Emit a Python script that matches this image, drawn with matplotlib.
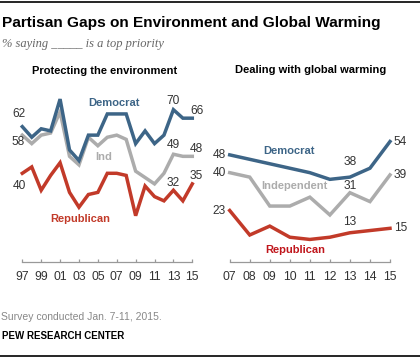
import matplotlib
matplotlib.use("Agg")
import matplotlib.pyplot as plt
from matplotlib.lines import Line2D

# --- data ---
env_years = [1997, 1998, 1999, 2000, 2001, 2002, 2003, 2004, 2005, 2006,
             2007, 2008, 2009, 2010, 2011, 2012, 2013, 2014, 2015]
env_dem = [62, 57, 61, 60, 75, 51, 46, 58, 58, 68, 68, 68, 54, 60, 54, 58, 70, 66, 66]
env_ind = [58, 54, 58, 59, 69, 48, 44, 57, 53, 57, 58, 56, 41, 38, 35, 40, 49, 48, 48]
env_rep = [40, 43, 32, 39, 45, 31, 24, 30, 31, 40, 40, 39, 20, 34, 29, 27, 32, 27, 35]
env_ticks = [1997, 1999, 2001, 2003, 2005, 2007, 2009, 2011, 2013, 2015]
env_ticklabels = ["97", "99", "01", "03", "05", "07", "09", "11", "13", "15"]

gw_years = [2007, 2008, 2009, 2010, 2011, 2012, 2013, 2014, 2015]
gw_dem = [48, 46, 44, 42, 40, 37, 38, 42, 54]
gw_ind = [40, 38, 25, 25, 29, 21, 31, 27, 39]
gw_rep = [23, 12, 16, 11, 10, 11, 13, 14, 15]
gw_ticklabels = ["07", "08", "09", "10", "11", "12", "13", "14", "15"]

DEM = "#3d6587"
IND = "#acacac"
REP = "#c23a29"
TXT = "#333333"

plt.rcParams["font.family"] = ["Liberation Sans", "DejaVu Sans"]

W, H = 420, 358
fig = plt.figure(figsize=(W / 100, H / 100), dpi=100)


def fx(x):
    return x / W


def fy(y):
    return 1 - y / H


def panel(x0, x1, y_top, y_bot, ylim):
    ax = fig.add_axes([fx(x0), fy(y_bot), (x1 - x0) / W, (y_bot - y_top) / H])
    ax.set_ylim(*ylim)
    for s in ["top", "left", "right"]:
        ax.spines[s].set_visible(False)
    ax.spines["bottom"].set_color("#999999")
    ax.spines["bottom"].set_linewidth(0.9)
    ax.set_yticks([])
    ax.tick_params(axis="x", direction="in", length=2.5, width=0.9,
                   color="#999999", pad=7, labelsize=8.8, labelcolor=TXT)
    ax.patch.set_visible(False)
    return ax


def lbl(ax, x, y, s, dx, dy, ha="center"):
    ax.annotate(s, (x, y), xytext=(dx, dy), textcoords="offset pixels",
                ha=ha, va="center", fontsize=8.6, color=TXT)


# left panel: environment
ax1 = panel(22.3, 192.3, 88.5, 261.7, (-1.7, 80))
ax1.set_xlim(1997, 2015)
for vals, c in [(env_ind, IND), (env_rep, REP), (env_dem, DEM)]:
    ax1.plot(env_years, vals, color=c, lw=2.5, clip_on=False,
             solid_joinstyle="miter")
ax1.set_xticks(env_ticks)
ax1.set_xticklabels(env_ticklabels)

lbl(ax1, env_years[0], env_dem[0], str(env_dem[0]), -3, 13)
lbl(ax1, env_years[0], env_ind[0], str(env_ind[0]), -4, -7)
lbl(ax1, env_years[0], env_rep[0], str(env_rep[0]), -3, -13)
lbl(ax1, env_years[16], env_dem[16], str(env_dem[16]), 0, 9)
lbl(ax1, env_years[16], env_ind[16], str(env_ind[16]), 0, 9)
lbl(ax1, env_years[16], env_rep[16], str(env_rep[16]), 0, 7)
lbl(ax1, env_years[-1], env_dem[-1], str(env_dem[-1]), 5, 7)
lbl(ax1, env_years[-1], env_ind[-1], str(env_ind[-1]), 4, 7)
lbl(ax1, env_years[-1], env_rep[-1], str(env_rep[-1]), 4, 8)

# right panel: global warming
ax2 = panel(229.7, 390.0, 95.0, 261.7, (0, 74.9))
ax2.set_xlim(2007, 2015)
for vals, c in [(gw_ind, IND), (gw_rep, REP), (gw_dem, DEM)]:
    ax2.plot(gw_years, vals, color=c, lw=2.5, clip_on=False,
             solid_joinstyle="miter")
ax2.set_xticks(gw_years)
ax2.set_xticklabels(gw_ticklabels)

for vals in [gw_dem, gw_ind, gw_rep]:
    lbl(ax2, gw_years[0], vals[0], str(vals[0]), -4, 0, ha="right")
    lbl(ax2, gw_years[-1], vals[-1], str(vals[-1]), 4, 0, ha="left")
lbl(ax2, gw_years[6], gw_dem[6], str(gw_dem[6]), 0, 15)
lbl(ax2, gw_years[6], gw_ind[6], str(gw_ind[6]), 0, 7)
lbl(ax2, gw_years[6], gw_rep[6], str(gw_rep[6]), 0, 11)

# series names
def name(x, y, s, c):
    fig.text(fx(x), fy(y), s, ha="center", va="center", fontsize=8,
             fontweight="bold", color=c)

name(114, 103.3, "Democrat", DEM)
name(103.3, 156.7, "Ind", IND)
name(80.5, 219, "Republican", REP)
name(289.5, 150.7, "Democrat", DEM)
name(294.7, 186, "Independent", IND)
name(295.5, 250, "Republican", "#c0161c")

# panel titles
fig.text(fx(104.7), fy(70.7), "Protecting the environment", ha="center",
         va="center", fontsize=8, fontweight="bold", color="black")
fig.text(fx(310.5), fy(70.3), "Dealing with global warming", ha="center",
         va="center", fontsize=8, fontweight="bold", color="black")

# header / footer
fig.add_artist(Line2D([0, 1], [fy(1.5), fy(1.5)], color="black", lw=1.2))
fig.add_artist(Line2D([0, 1], [fy(355.5), fy(355.5)], color="black", lw=1.2))
fig.text(fx(1.5), fy(23), "Partisan Gaps on Environment and Global Warming",
         ha="left", va="center", fontsize=11.1, fontweight="bold", color="black")
fig.text(fx(1.5), fy(44.5), "% saying _____ is a top priority", ha="left",
         va="center", fontsize=9, style="italic", color="#666666",
         family=["Liberation Serif", "DejaVu Serif"])
fig.text(fx(1), fy(317.3), "Survey conducted Jan. 7-11, 2015.", ha="left",
         va="center", fontsize=7.5, color="#888888")
fig.text(fx(1.5), fy(335.7), "PEW RESEARCH CENTER", ha="left", va="center",
         fontsize=7, fontweight="bold", color="black")

fig.savefig("out.png", dpi=100)
